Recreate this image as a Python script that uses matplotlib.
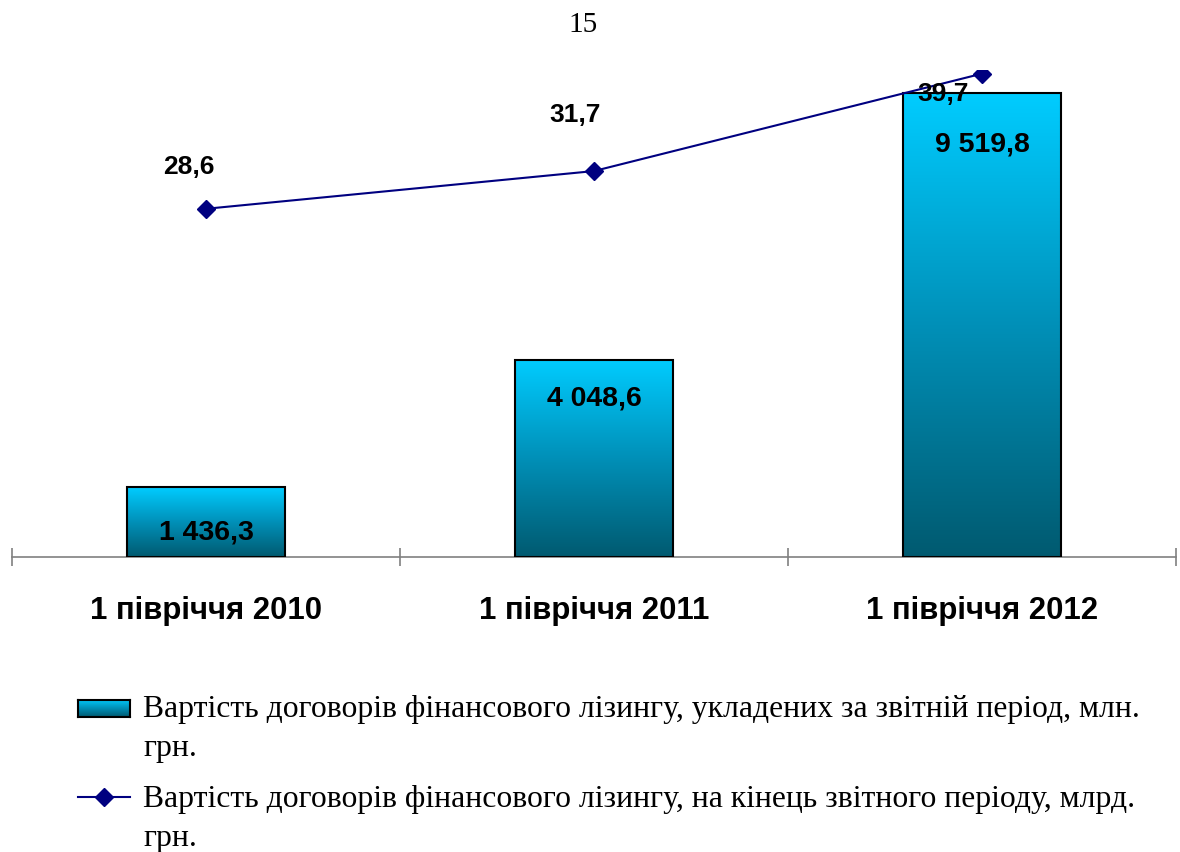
import numpy as np
import matplotlib
matplotlib.use("Agg")
import matplotlib.pyplot as plt
from matplotlib.colors import LinearSegmentedColormap
from matplotlib.lines import Line2D

categories = ["1 півріччя 2010", "1 півріччя 2011", "1 півріччя 2012"]
contracts_new = [1436.3, 4048.6, 9519.8]      # млн. грн.
contracts_total = [28.6, 31.7, 39.7]          # млрд. грн.
bar_labels = ["1 436,3", "4 048,6", "9 519,8"]
line_labels = ["28,6", "31,7", "39,7"]
legend_labels = [
    "Вартість договорів фінансового лізингу, укладених за звітній період, млн.\nгрн.",
    "Вартість договорів фінансового лізингу, на кінець звітного періоду, млрд.\nгрн.",
]

# label placement (pixels) - hand tuned
bar_lbl_off = [-45, -39, -51]
line_lbl_off = [(-17, 42), (-19, 56), (-39, -20)]

sans = "Liberation Sans"
serif = "Liberation Serif"
grad = LinearSegmentedColormap.from_list("g", ["#005a70", "#0090b8", "#00ccff"])

fig = plt.figure(figsize=(11.8, 8.52), dpi=100)
ax = fig.add_axes([12 / 1180, 1 - 557 / 852, 1164 / 1180, 487 / 852])
ax2 = ax.twinx()

x = np.arange(len(categories))
bars = ax.bar(x, contracts_new, width=0.405, color="none", edgecolor="black",
              linewidth=1.5, zorder=3)
g = np.linspace(0, 1, 256).reshape(-1, 1)
for b in bars:
    x0, w, h = b.get_x(), b.get_width(), b.get_height()
    im = ax.imshow(g, cmap=grad, origin="lower", aspect="auto",
                   extent=[x0, x0 + w, 0, h], zorder=2)
    im.set_clip_path(b)

for i, b in enumerate(bars):
    ax.annotate(bar_labels[i], (b.get_x() + b.get_width() / 2, b.get_height()),
                xytext=(0, bar_lbl_off[i] * 0.72), textcoords="offset points",
                ha="center", va="center", fontsize=20.5, fontweight="bold",
                family=sans, zorder=5)

ax.set_xlim(-0.5, 2.5)
ax.set_ylim(0, 10000)
ax2.set_ylim(0, 40)

ax2.plot(x, contracts_total, color="#000080", lw=1.5, marker="D",
         markersize=9, zorder=4)
for i, v in enumerate(contracts_total):
    dx, dy = line_lbl_off[i]
    ax2.annotate(line_labels[i], (x[i], v), xytext=(dx * 0.72, dy * 0.72),
                 textcoords="offset points", ha="center", va="center",
                 fontsize=19, fontweight="bold", family=sans, zorder=5)

for a in (ax, ax2):
    for s in ("top", "left", "right"):
        a.spines[s].set_visible(False)
    a.set_yticks([])
ax2.spines["bottom"].set_visible(False)
ax.spines["bottom"].set_color("#808080")
ax.spines["bottom"].set_linewidth(1.2)
ax.set_xticks([-0.5, 0.5, 1.5, 2.5])
ax.set_xticklabels([])
ax.tick_params(axis="x", direction="inout", length=13, width=1.2, color="#808080")
ax.set_xticks(x, minor=True)
ax.set_xticklabels(categories, minor=True, fontsize=22.4, fontweight="bold",
                   family=sans)
ax.tick_params(axis="x", which="minor", length=0, pad=28)
ax.set_zorder(1)
ax2.set_zorder(2)
ax.patch.set_visible(False)

# page number
fig.text(583 / 1180, 1 - 25 / 852, "15", ha="center", va="center",
         fontsize=21, family=serif)

# legend drawn by hand
lax = fig.add_axes([78 / 1180, 1 - 717 / 852, 52 / 1180, 17 / 852])
lax.imshow(g, cmap=grad, origin="lower", aspect="auto", extent=[0, 1, 0, 1])
lax.set_xticks([])
lax.set_yticks([])
for s in lax.spines.values():
    s.set_linewidth(1.5)
ly = 1 - 797 / 852
fig.add_artist(Line2D([78 / 1180, 104 / 1180, 130 / 1180], [ly, ly, ly],
                      color="#000080", lw=1.5, marker="D", markersize=9,
                      markevery=[1], transform=fig.transFigure))
for yy, lbl in zip([717, 807], legend_labels):
    for k, part in enumerate(lbl.split("\n")):
        fig.text(143 / 1180, 1 - (yy + 39 * k) / 852, part, ha="left",
                 va="baseline", fontsize=22.8, family=serif)

fig.savefig("out.png", dpi=100)
